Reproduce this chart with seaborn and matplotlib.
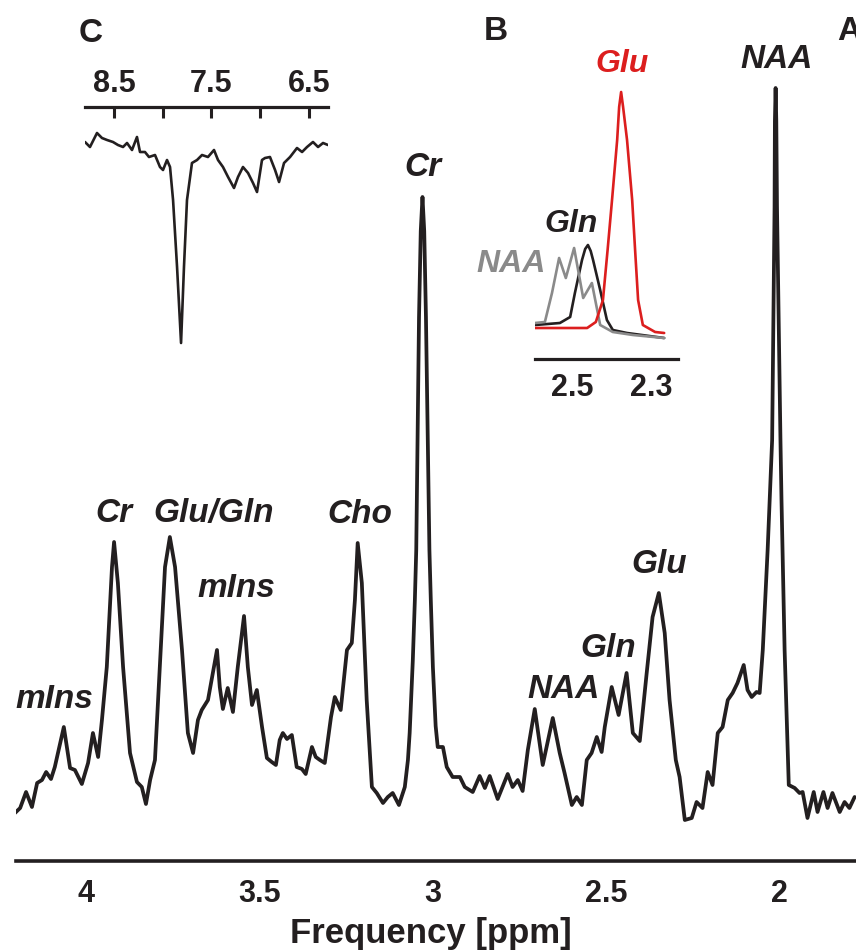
import matplotlib
matplotlib.use("Agg")
import matplotlib.pyplot as plt
import seaborn as sns

# main spectrum (A)
main_ppm = [4.205, 4.190, 4.173, 4.156, 4.141, 4.127, 4.115, 4.101, 4.090, 4.064,
            4.046, 4.032, 4.012, 3.994, 3.980, 3.965, 3.954, 3.940, 3.925, 3.919,
            3.908, 3.893, 3.873, 3.853, 3.839, 3.827, 3.815, 3.801, 3.787, 3.772,
            3.758, 3.743, 3.723, 3.706, 3.691, 3.677, 3.666, 3.648, 3.634, 3.622,
            3.614, 3.605, 3.591, 3.576, 3.562, 3.544, 3.533, 3.521, 3.507, 3.492,
            3.478, 3.464, 3.452, 3.441, 3.432, 3.420, 3.406, 3.392, 3.377, 3.366,
            3.348, 3.337, 3.325, 3.311, 3.293, 3.282, 3.265, 3.247, 3.233, 3.224,
            3.216, 3.204, 3.190, 3.175, 3.161, 3.143, 3.129, 3.115, 3.097, 3.080,
            3.071, 3.066, 3.057, 3.051, 3.047, 3.039, 3.034, 3.029, 3.024, 3.019,
            3.009, 3.005, 2.999, 2.991, 2.985, 2.970, 2.959, 2.942, 2.921, 2.907,
            2.884, 2.864, 2.849, 2.835, 2.812, 2.783, 2.769, 2.754, 2.740, 2.725,
            2.705, 2.682, 2.653, 2.633, 2.619, 2.598, 2.584, 2.569, 2.555, 2.541,
            2.526, 2.512, 2.503, 2.483, 2.463, 2.440, 2.422, 2.402, 2.382, 2.365,
            2.347, 2.330, 2.316, 2.298, 2.287, 2.272, 2.252, 2.238, 2.221, 2.206,
            2.192, 2.177, 2.163, 2.148, 2.134, 2.120, 2.102, 2.091, 2.079, 2.065,
            2.056, 2.047, 2.033, 2.027, 2.020, 2.013, 2.012, 2.010, 2.008, 2.006,
            1.996, 1.993, 1.984, 1.972, 1.955, 1.941, 1.932, 1.918, 1.900, 1.889,
            1.872, 1.860, 1.846, 1.825, 1.811, 1.797, 1.782]
main_int = [48, 53, 69, 54, 78, 81, 89, 82, 94, 134,
            93, 91, 77, 98, 128, 104, 141, 194, 294, 319,
            278, 194, 108, 79, 74, 57, 81, 101, 194, 294,
            324, 294, 211, 128, 108, 141, 151, 161, 188, 211,
            174, 152, 173, 149, 194, 245, 194, 156, 171, 134,
            103, 99, 96, 121, 128, 122, 126, 94, 92, 87,
            114, 104, 101, 98, 144, 164, 151, 211, 218, 261,
            318, 278, 161, 74, 68, 58, 64, 68, 56, 74,
            101, 128, 200, 261, 311, 544, 630, 664, 630, 544,
            311, 261, 194, 135, 114, 114, 94, 84, 84, 74,
            69, 85, 73, 85, 62, 87, 74, 81, 70, 111,
            152, 96, 143, 108, 88, 56, 64, 56, 101, 108,
            124, 109, 134, 174, 146, 188, 128, 120, 188, 244,
            268, 228, 161, 101, 84, 41, 43, 59, 53, 89,
            76, 128, 134, 161, 168, 178, 196, 171, 164, 169,
            168, 211, 311, 361, 421, 654, 740, 773, 740, 654,
            421, 361, 211, 76, 73, 68, 69, 43, 69, 49,
            69, 53, 68, 49, 59, 53, 64]

main_ticks = [4, 3.5, 3, 2.5, 2]
main_ticklabels = ["4", "3.5", "3", "2.5", "2"]

# peak labels in A: (ppm, height, text)
main_labels = [(4.092, 153, "mIns"), (3.919, 339, "Cr"), (3.631, 339, "Glu/Gln"),
               (3.565, 264, "mIns"), (3.210, 338, "Cho"), (3.029, 685, "Cr"),
               (2.621, 163, "NAA"), (2.492, 204, "Gln"), (2.347, 288, "Glu"),
               (2.007, 793, "NAA")]

# inset C (aromatic region)
c_ppm = [8.797, 8.746, 8.674, 8.623, 8.571, 8.510, 8.459, 8.407, 8.366, 8.315,
         8.264, 8.233, 8.182, 8.141, 8.079, 8.028, 7.997, 7.956, 7.925, 7.894,
         7.853, 7.812, 7.782, 7.751, 7.700, 7.648, 7.597, 7.536, 7.474, 7.433,
         7.382, 7.330, 7.269, 7.228, 7.177, 7.125, 7.074, 7.033, 6.982, 6.951,
         6.900, 6.848, 6.807, 6.756, 6.694, 6.623, 6.571, 6.520, 6.459, 6.407,
         6.356, 6.305]
c_int = [208, 203, 217, 212, 210, 208, 205, 203, 207, 200,
         213, 198, 198, 193, 195, 183, 180, 190, 183, 150,
         83, 7, 83, 150, 187, 190, 195, 193, 200, 190,
         183, 173, 162, 173, 183, 177, 167, 158, 190, 192,
         193, 180, 168, 187, 193, 202, 198, 203, 208, 203,
         207, 205]
c_ticks = [8.5, 8.0, 7.5, 7.0, 6.5]
c_ticklabels = ["8.5", "", "7.5", "", "6.5"]

# inset B (basis spectra)
glu_ppm = [2.594, 2.462, 2.440, 2.422, 2.410, 2.399, 2.386, 2.381, 2.376, 2.371,
           2.361, 2.348, 2.340, 2.333, 2.321, 2.290, 2.267]
glu_int = [31, 31, 37, 59, 110, 159, 219, 252, 267, 252,
           219, 159, 105, 59, 34, 27, 26]
gln_ppm = [2.594, 2.531, 2.505, 2.493, 2.475, 2.467, 2.460, 2.453, 2.447, 2.429,
           2.412, 2.397, 2.361, 2.267]
gln_int = [34, 36, 42, 66, 99, 110, 114, 108, 99, 69,
           39, 29, 26, 21]
naa_ppm = [2.594, 2.569, 2.551, 2.533, 2.516, 2.495, 2.472, 2.450, 2.429, 2.397,
           2.346, 2.267]
naa_int = [36, 37, 66, 101, 81, 111, 61, 76, 34, 27,
           24, 21]
b_ticks = [2.5, 2.4, 2.3]
b_ticklabels = ["2.5", "", "2.3"]

INK = "#231f20"
RED = "#dc1e1e"
GREY = "#8a8a8a"

sns.set_style("white")
plt.rcParams["font.family"] = ["Liberation Sans", "DejaVu Sans"]
plt.rcParams["font.weight"] = "bold"
plt.rcParams["lines.solid_joinstyle"] = "round"
plt.rcParams["lines.solid_capstyle"] = "round"

fig = plt.figure(figsize=(8.56, 9.52), dpi=100)

# ---- A: main spectrum
ax = fig.add_axes([16 / 856, 91 / 952, 840 / 856, 861 / 952])
sns.lineplot(x=main_ppm, y=main_int, ax=ax, color=INK, lw=2.7, sort=False, estimator=None)
ax.set_xlim(4.202, 1.778)
ax.set_ylim(0, 861)
ax.set_yticks([])
ax.set_xticks(main_ticks)
ax.set_xticklabels(main_ticklabels, fontsize=22, fontweight="bold")
ax.tick_params(axis="x", direction="in", length=8, width=2.5, pad=13, colors=INK)
for s in ["left", "top", "right"]:
    ax.spines[s].set_visible(False)
ax.spines["bottom"].set_linewidth(2.6)
ax.spines["bottom"].set_color(INK)
ax.patch.set_alpha(0)
for x, y, t in main_labels:
    ax.text(x, y, t, ha="center", va="baseline", fontsize=24,
            fontweight="bold", fontstyle="italic", color=INK)

fig.text(431 / 856, 1 - 943 / 952, "Frequency [ppm]", ha="center", va="baseline",
         fontsize=25, fontweight="bold", color=INK)

# ---- C: inset, axis on top
axc = fig.add_axes([85 / 856, 1 - 350 / 952, 243 / 856, 243 / 952])
sns.lineplot(x=c_ppm, y=c_int, ax=axc, color=INK, lw=1.9, sort=False, estimator=None)
axc.set_xlim(8.797, 6.305)
axc.set_ylim(0, 243)
axc.set_yticks([])
axc.xaxis.tick_top()
axc.set_xticks(c_ticks)
axc.set_xticklabels(c_ticklabels, fontsize=22, fontweight="bold")
axc.tick_params(axis="x", direction="in", length=8, width=2.2, pad=6, colors=INK)
for s in ["left", "bottom", "right"]:
    axc.spines[s].set_visible(False)
axc.spines["top"].set_linewidth(2.3)
axc.spines["top"].set_color(INK)
axc.patch.set_alpha(0)

# ---- B: inset with basis spectra
axb = fig.add_axes([535 / 856, 1 - 359 / 952, 143 / 856, 279 / 952])
sns.lineplot(x=gln_ppm, y=gln_int, ax=axb, color=INK, lw=1.9, sort=False, estimator=None)
sns.lineplot(x=naa_ppm, y=naa_int, ax=axb, color=GREY, lw=1.9, sort=False, estimator=None)
sns.lineplot(x=glu_ppm, y=glu_int, ax=axb, color=RED, lw=1.9, sort=False, estimator=None)
axb.set_xlim(2.594, 2.232)
axb.set_ylim(0, 279)
axb.set_yticks([])
axb.set_xticks(b_ticks)
axb.set_xticklabels(b_ticklabels, fontsize=22, fontweight="bold")
axb.tick_params(axis="x", direction="in", length=8, width=2.2, pad=10, colors=INK)
for s in ["left", "top", "right"]:
    axb.spines[s].set_visible(False)
axb.spines["bottom"].set_linewidth(2.3)
axb.spines["bottom"].set_color(INK)
axb.patch.set_alpha(0)
axb.text(2.374, 287, "Glu", ha="center", va="baseline", fontsize=23,
         fontweight="bold", fontstyle="italic", color=RED)
axb.text(2.503, 127, "Gln", ha="center", va="baseline", fontsize=23,
         fontweight="bold", fontstyle="italic", color=INK)
axb.text(2.655, 87, "NAA", ha="center", va="baseline", fontsize=23,
         fontweight="bold", fontstyle="italic", color=GREY)

# panel letters
fig.text(91 / 856, 1 - 42 / 952, "C", ha="center", va="baseline", fontsize=24, fontweight="bold", color=INK)
fig.text(496 / 856, 1 - 40 / 952, "B", ha="center", va="baseline", fontsize=24, fontweight="bold", color=INK)
fig.text(837 / 856, 1 - 40 / 952, "A", ha="left", va="baseline", fontsize=24, fontweight="bold", color=INK)

fig.savefig("out.png", dpi=100)
